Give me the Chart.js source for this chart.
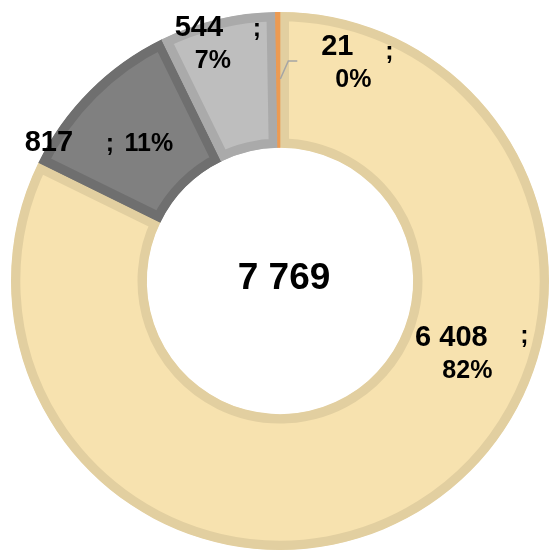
<!DOCTYPE html>
<html>
<head>
<meta charset="utf-8">
<script src="https://cdn.jsdelivr.net/npm/chart.js@4/dist/chart.umd.min.js"></script>
<style>
    html, body { margin: 0; padding: 0; background: #ffffff; }
    #wrap { width: 552px; height: 552px; }
</style>
</head>
<body>
<div id="wrap"><canvas id="chart"></canvas></div>
<script>
// ==================== DATA ====================
const categories = ['A', 'B', 'C', 'D'];
const values = [6408, 817, 544, 21];
const percentLabels = ['82%', '11%', '7%', '0%'];
const totalLabel = '7 769';

const fillColors = ['#F7E2AF', '#808080', '#BEBEBE', '#F0A05A'];
const borderColors = ['#E2CFA0', '#6F6F6F', '#AAAAAA', '#EC9A52'];

// format 6408 -> "6 408"
function formatValue(v) {
    return String(v).replace(/\B(?=(\d{3})+(?!\d))/g, ' ');
}

// Etiquettes placées à la main comme dans Excel (décalages depuis le centre de chaque part)
const sliceLabels = {
    id: 'sliceLabels',
    afterDatasetsDraw(chart, args, opts) {
        const ctx = chart.ctx;
        const meta = chart.getDatasetMeta(0);
        ctx.save();
        ctx.fillStyle = '#000000';
        ctx.textAlign = 'center';
        ctx.textBaseline = 'middle';

        meta.data.forEach((arc, i) => {
            const p = arc.tooltipPosition();
            const o = opts.offsets[i];

            ctx.font = 'bold 29px "Liberation Sans", Arial, sans-serif';
            ctx.fillText(formatValue(values[i]), p.x + o.value[0], p.y + o.value[1]);

            ctx.font = 'bold 25px "Liberation Sans", Arial, sans-serif';
            ctx.fillText(';', p.x + o.sep[0], p.y + o.sep[1]);
            ctx.fillText(percentLabels[i], p.x + o.pct[0], p.y + o.pct[1]);

            if (o.leader) {
                ctx.strokeStyle = '#A5A5A5';
                ctx.lineWidth = 1.5;
                ctx.beginPath();
                o.leader.forEach((pt, k) => {
                    if (k === 0) ctx.moveTo(p.x + pt[0], p.y + pt[1]);
                    else ctx.lineTo(p.x + pt[0], p.y + pt[1]);
                });
                ctx.stroke();
            }
        });

        // total au centre
        const c = meta.data[0];
        ctx.font = 'bold 37px "Liberation Sans", Arial, sans-serif';
        ctx.fillText(totalLabel, c.x + opts.center[0], c.y + opts.center[1]);
        ctx.restore();
    }
};

new Chart(document.getElementById('chart'), {
    type: 'doughnut',
    data: {
        labels: categories,
        datasets: [{
            data: values,
            backgroundColor: fillColors,
            borderColor: borderColors,
            borderWidth: 9,
            borderAlign: 'inner'
        }]
    },
    options: {
        responsive: true,
        maintainAspectRatio: false,
        animation: false,
        cutout: '49.5%',
        layout: {
            padding: { left: 11, right: 3, top: 12, bottom: 2 }
        },
        plugins: {
            legend: { display: false },
            tooltip: { enabled: false },
            sliceLabels: {
                center: [4, -2],
                offsets: [
                    { value: [65, -114], sep: [138, -116], pct: [81, -81] },
                    { value: [-89, 4], sep: [-28, 5], pct: [11, 5] },
                    { value: [-34, -58], sep: [24, -56], pct: [-20, -24] },
                    { value: [59, -33], sep: [111, -28], pct: [75, 0],
                      leader: [[19, -19], [10, -19], [2, -1]] }
                ]
            }
        }
    },
    plugins: [sliceLabels]
});
</script>
</body>
</html>
